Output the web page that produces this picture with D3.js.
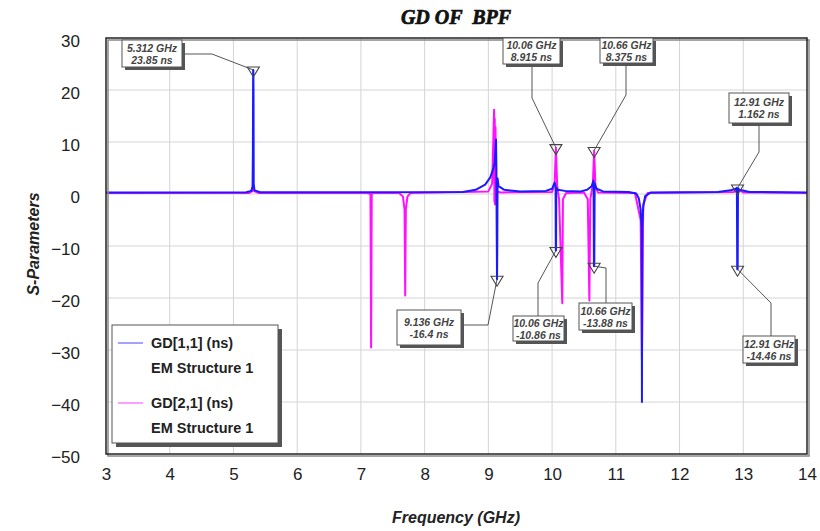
<!DOCTYPE html>
<html>
<head>
<meta charset="utf-8">
<script src="https://cdn.jsdelivr.net/npm/d3@7"></script>
<style>
  body { margin: 0; background: #fff; }
  svg { display: block; font-family: "Liberation Sans", Arial, sans-serif; }
</style>
</head>
<body>
<div id="chart"></div>
<script>
// ---- data ----
const xTicks = [3, 4, 5, 6, 7, 8, 9, 10, 11, 12, 13, 14];
const yTicks = [30, 20, 10, 0, -10, -20, -30, -40, -50];

// GD[1,1] (ns) — blue trace, [GHz, ns]
const gd11 = [
  [3, 0.3], [5.2, 0.35], [5.28, 0.6], [5.3, 1.5], [5.305, 8], [5.309, 23.85], [5.312, 23.85],
  [5.315, 19], [5.318, 2], [5.33, 0.7], [5.42, 0.35], [8.6, 0.4], [8.8, 0.8], [8.95, 1.8],
  [9.03, 3.2], [9.08, 5], [9.1, 6], [9.12, 10.5], [9.126, 5], [9.13, -5], [9.136, -16.4],
  [9.14, -10], [9.145, 3], [9.16, 1.5], [9.25, 0.8], [9.5, 0.5], [9.9, 0.6], [10.0, 1.0],
  [10.04, 2.2], [10.055, 1.5], [10.058, -10.86], [10.062, -10.86], [10.066, 1.2], [10.09, 0.8],
  [10.2, 0.6], [10.45, 0.5], [10.55, 0.8], [10.62, 1.5], [10.65, 2.6], [10.656, -13.88],
  [10.662, -13.88], [10.668, 2], [10.7, 1], [10.8, 0.5], [11.2, 0.4], [11.32, 0.1],
  [11.36, -0.8], [11.39, -3], [11.405, -6.5], [11.41, -40], [11.415, -6.5], [11.43, -2.5],
  [11.46, -0.4], [11.55, 0.3], [12.6, 0.4], [12.8, 0.7], [12.88, 1.0], [12.9, 1.2],
  [12.905, -14.46], [12.912, -14.46], [12.917, 1.1], [12.94, 0.8], [13.1, 0.4], [14, 0.3]
];

// GD[2,1] (ns) — magenta trace, [GHz, ns]
const gd21 = [
  [3, 0.2], [5.25, 0.2], [5.3, 0.6], [5.312, 1.0], [5.33, 0.5], [5.4, 0.2], [7.1, 0.2],
  [7.15, 0], [7.16, -29.5], [7.17, 0], [7.2, 0.2], [7.6, 0.2], [7.66, -0.5], [7.685, -3],
  [7.695, -19.5], [7.705, -3], [7.73, -0.5], [7.78, 0.2], [9.0, 0.5], [9.06, 2], [9.09, 16.2],
  [9.095, -1.5], [9.1, 14.5], [9.105, -2], [9.112, 12.9], [9.12, 0.5], [9.2, 0.3], [10.0, 0.4],
  [10.04, 2], [10.06, 8.915], [10.08, 1.5], [10.11, -1], [10.16, -21], [10.17, -1], [10.22, 0.2],
  [10.5, 0.3], [10.56, -1], [10.585, -20.5], [10.6, -1], [10.64, 2], [10.66, 8.375], [10.68, 1.5],
  [10.72, 0.3], [11.3, 0.2], [11.39, -5], [11.41, -32], [11.43, -2], [11.5, 0.2], [12.85, 0.4],
  [12.9, 1.0], [12.91, 1.162], [12.93, 0.8], [13.0, 0.3], [14, 0.2]
];

// marker readouts
const markerFreq  = [5.312, 10.06, 10.66, 12.91, 9.136, 10.06, 10.66, 12.91];
const markerValue = [23.85, 8.915, 8.375, 1.162, -16.4, -10.86, -13.88, -14.46];
const markerText  = [
  ["5.312 GHz", "23.85 ns"], ["10.06 GHz", "8.915 ns"], ["10.66 GHz", "8.375 ns"],
  ["12.91 GHz", "1.162 ns"], ["9.136 GHz", "-16.4 ns"], ["10.06 GHz", "-10.86 ns"],
  ["10.66 GHz", "-13.88 ns"], ["12.91 GHz", "-14.46 ns"]
];

// callout box layout (px): box x, y, w, h, leader anchor, elbow
const calloutLayout = [
  { x: 122, y: 40, w: 60, h: 27, ax: 182, ay: 54, ex: 212, ey: 54 },
  { x: 503, y: 38, w: 57, h: 26, ax: 532, ay: 64, ex: 532, ey: 98 },
  { x: 600, y: 38, w: 53, h: 25, ax: 626, ay: 63, ex: 626, ey: 95 },
  { x: 729, y: 93, w: 60, h: 30, ax: 759, ay: 123, ex: 759, ey: 152 },
  { x: 397, y: 310, w: 64, h: 35, ax: 461, ay: 325, ex: 488, ey: 325 },
  { x: 513, y: 316, w: 51, h: 25, ax: 538, ay: 316, ex: 538, ey: 283 },
  { x: 579, y: 303, w: 53, h: 27, ax: 606, ay: 303, ex: 606, ey: 268 },
  { x: 743, y: 336, w: 52, h: 27, ax: 771, ay: 336, ex: 771, ey: 303 }
];

const BLUE = "#1a1aff";
const MAGENTA = "#ff10ff";

const W = 820, H = 531;
const plot = { left: 106, right: 807, top: 38, bottom: 454 };

const svg = d3.select("#chart").append("svg")
  .attr("width", W).attr("height", H);

svg.append("rect").attr("width", W).attr("height", H).attr("fill", "#fff");

const x = d3.scaleLinear().domain([3, 14]).range([plot.left, plot.right]);
const y = d3.scaleLinear().domain([-50, 30]).range([plot.bottom, plot.top]);

// grid
const grid = svg.append("g").attr("stroke", "#d4d4d4").attr("stroke-width", 1);
xTicks.slice(1, -1).forEach(t => {
  grid.append("line").attr("x1", x(t)).attr("x2", x(t))
    .attr("y1", plot.top).attr("y2", plot.bottom);
});
yTicks.slice(1, -1).forEach(t => {
  grid.append("line").attr("x1", plot.left).attr("x2", plot.right)
    .attr("y1", y(t)).attr("y2", y(t));
});

// axes (labels only, frame drawn separately)
const xAxis = svg.append("g")
  .attr("transform", `translate(0,${plot.bottom})`)
  .call(d3.axisBottom(x).tickValues(xTicks).tickSize(0).tickPadding(14));
const yAxis = svg.append("g")
  .attr("transform", `translate(${plot.left},0)`)
  .call(d3.axisLeft(y).tickValues(yTicks).tickSize(0).tickPadding(26));
[xAxis, yAxis].forEach(g => {
  g.select(".domain").remove();
  g.selectAll("text")
    .attr("font-family", "'Liberation Sans', Arial, sans-serif")
    .attr("font-size", 17).attr("fill", "#222");
});
yAxis.selectAll("text").attr("dy", "0.5em");

// traces
const line = d3.line().x(d => x(d[0])).y(d => y(d[1]));
svg.append("clipPath").attr("id", "clip").append("rect")
  .attr("x", plot.left).attr("y", plot.top)
  .attr("width", plot.right - plot.left).attr("height", plot.bottom - plot.top);

const traces = svg.append("g").attr("clip-path", "url(#clip)");
traces.append("path").datum(gd21)
  .attr("d", line).attr("fill", "none")
  .attr("stroke", MAGENTA).attr("stroke-width", 2).attr("stroke-linejoin", "round");
traces.append("path").datum(gd11)
  .attr("d", line).attr("fill", "none")
  .attr("stroke", BLUE).attr("stroke-width", 2).attr("stroke-linejoin", "round");

// frame with shadow
svg.append("rect")
  .attr("x", plot.left + 2).attr("y", plot.top + 2)
  .attr("width", plot.right - plot.left).attr("height", plot.bottom - plot.top)
  .attr("fill", "none").attr("stroke", "#888").attr("stroke-width", 1.5);
svg.append("rect")
  .attr("x", plot.left).attr("y", plot.top)
  .attr("width", plot.right - plot.left).attr("height", plot.bottom - plot.top)
  .attr("fill", "none").attr("stroke", "#222").attr("stroke-width", 1.5);

// markers and callouts
const callouts = svg.append("g");
markerFreq.forEach((f, i) => {
  const px = x(f), py = y(markerValue[i]);
  const L = calloutLayout[i];
  callouts.append("polyline")
    .attr("points", `${L.ax},${L.ay} ${L.ex},${L.ey} ${px},${py}`)
    .attr("fill", "none").attr("stroke", "#555").attr("stroke-width", 1);
  callouts.append("path")
    .attr("d", `M${px - 6},${py - 3} L${px + 6},${py - 3} L${px},${py + 7} Z`)
    .attr("fill", "none").attr("stroke", "#444").attr("stroke-width", 1.1);
  callouts.append("rect")
    .attr("x", L.x + 3).attr("y", L.y + 3).attr("width", L.w).attr("height", L.h)
    .attr("fill", "#555");
  callouts.append("rect")
    .attr("x", L.x).attr("y", L.y).attr("width", L.w).attr("height", L.h)
    .attr("fill", "#fff").attr("stroke", "#555").attr("stroke-width", 1);
  markerText[i].forEach((s, k) => {
    callouts.append("text")
      .attr("x", L.x + L.w / 2)
      .attr("y", L.y + L.h / 2 - 2 + k * 12)
      .attr("text-anchor", "middle")
      .attr("font-size", 10.5).attr("font-style", "italic").attr("font-weight", "bold")
      .attr("fill", "#444").text(s);
  });
});

// legend
const lg = svg.append("g");
lg.append("rect").attr("x", 116).attr("y", 329).attr("width", 166).attr("height", 118).attr("fill", "#555");
lg.append("rect").attr("x", 112).attr("y", 325).attr("width", 166).attr("height", 118)
  .attr("fill", "#fff").attr("stroke", "#555").attr("stroke-width", 1);
const legendItems = [
  { name: "GD[1,1] (ns)", sub: "EM Structure 1", color: BLUE, y: 343 },
  { name: "GD[2,1] (ns)", sub: "EM Structure 1", color: MAGENTA, y: 403 }
];
legendItems.forEach(d => {
  lg.append("line").attr("x1", 118).attr("x2", 143).attr("y1", d.y).attr("y2", d.y)
    .attr("stroke", d.color).attr("stroke-width", 1).attr("opacity", 0.8);
  lg.append("text").attr("x", 151).attr("y", d.y).attr("dy", "0.35em")
    .attr("font-size", 14.5).attr("font-weight", "bold").attr("fill", "#222").text(d.name);
  lg.append("text").attr("x", 151).attr("y", d.y + 25).attr("dy", "0.35em")
    .attr("font-size", 14.5).attr("font-weight", "bold").attr("fill", "#222").text(d.sub);
});

// titles
svg.append("text").attr("x", 456).attr("y", 24).attr("text-anchor", "middle")
  .attr("font-family", "'Liberation Serif', 'Times New Roman', serif")
  .attr("font-size", 20).attr("font-weight", "bold").attr("font-style", "italic")
  .attr("fill", "#111").attr("stroke", "#111").attr("stroke-width", 0.7)
  .attr("xml:space", "preserve").text("GD OF  BPF");

svg.append("text").attr("x", 456).attr("y", 523).attr("text-anchor", "middle")
  .attr("font-size", 16).attr("font-weight", "bold").attr("font-style", "italic")
  .attr("fill", "#222").text("Frequency (GHz)");

svg.append("text")
  .attr("transform", `translate(39,${(plot.top + plot.bottom) / 2 - 2}) rotate(-90)`)
  .attr("text-anchor", "middle")
  .attr("font-size", 16).attr("font-weight", "bold").attr("font-style", "italic")
  .attr("fill", "#222").text("S-Parameters");
</script>
</body>
</html>
